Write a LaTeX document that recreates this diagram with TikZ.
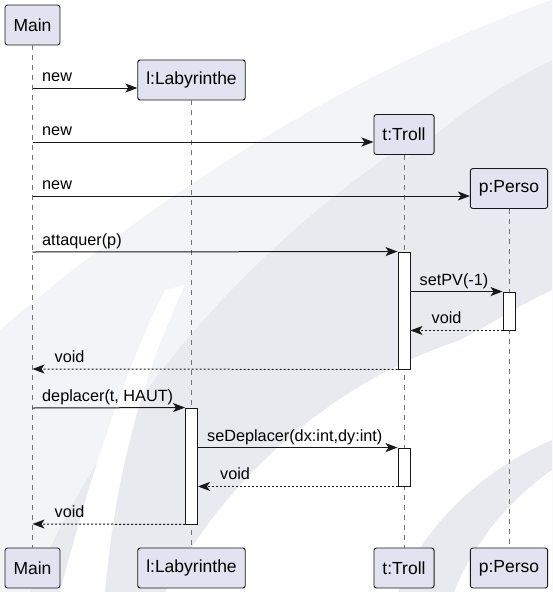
\documentclass[tikz,border=0pt]{standalone}
\usepackage{fontspec}
\setmainfont{Liberation Sans}
\usetikzlibrary{arrows.meta,calc}
\definecolor{boxfill}{HTML}{E2E2F0}
\definecolor{ink}{HTML}{181818}
\definecolor{bgmid}{HTML}{E9EAEF}
\definecolor{bglight}{HTML}{F3F4F7}
\tikzset{
  part/.style={draw=ink, fill=boxfill, rounded corners=2.5pt, line width=0.9pt,
    minimum height=40pt, inner xsep=8.5pt, inner ysep=0pt,
    font=\fontsize{17.5}{20}\selectfont},
  life/.style={draw=ink!60, line width=0.8pt, dash pattern=on 5pt off 5pt},
  act/.style={draw=ink, fill=white, line width=0.9pt, minimum width=12pt, inner sep=0pt},
  msg/.style={draw=ink, line width=1pt, -{Stealth[length=12pt,width=9pt,inset=3pt]}},
  ret/.style={draw=ink, line width=1pt, dash pattern=on 2pt off 2pt,
    -{Stealth[length=12pt,width=9pt,inset=3pt]}},
  lbl/.style={inner sep=0pt, anchor=base west, font=\fontsize{16.25}{19}\selectfont}
}
\begin{document}
\begin{tikzpicture}[x=1pt,y=-1pt]
\useasboundingbox (0,0) rectangle (552,592);
% background
\fill[white] (0,0) rectangle (552,592);
\fill[bglight] (0,330) .. controls (150,200) and (350,70) .. (552,0) -- (552,592) -- (0,592) -- cycle;
\fill[bgmid] (30,592) .. controls (120,380) and (300,180) .. (552,60) -- (552,592) -- cycle;
% white swooshes
\fill[white] (60,592) .. controls (90,480) and (120,380) .. (165,290)
   -- (185,285) .. controls (140,380) and (115,480) .. (105,592) -- cycle;
\fill[white] (165,592) .. controls (230,470) and (340,380) .. (458,341)
   .. controls (490,325) and (520,305) .. (552,290) -- (552,440)
   .. controls (480,470) and (420,530) .. (398,592) -- cycle;
\fill[white] (454,592) .. controls (475,540) and (510,500) .. (552,470) -- (552,592) -- cycle;
\fill[bglight] (552,0) -- (552,60) .. controls (500,85) and (450,120) .. (405,160)
   .. controls (430,110) and (480,50) .. (552,0) -- cycle;

% participants
\node[part] (mainT) at (32.5,25) {Main};
\node[part] (labT) at (191.5,80) {l:Labyrinthe};
\node[part] (trollT) at (404,134.5) {t:Troll};
\node[part] (persoT) at (509,188.5) {p:Perso};
\node[part] (mainB) at (32.5,568) {Main};
\node[part] (labB) at (191.5,568) {l:Labyrinthe};
\node[part] (trollB) at (404,568) {t:Troll};
\node[part] (persoB) at (509,568) {p:Perso};

% lifelines
\draw[life] (mainT) -- (mainB);
\draw[life] (labT) -- (labB);
\draw[life] (trollT) -- (trollB);
\draw[life] (persoT) -- (persoB);

% activations
\node[act, minimum height=117pt] (tA1) at (404,310.5) {};
\node[act, minimum height=38pt] (pA1) at (509,311) {};
\node[act, minimum height=116pt] (lA1) at (191.5,466) {};
\node[act, minimum height=38pt] (tA2) at (404,467) {};

% points on Main lifeline
\coordinate (m1) at (32.5,88);
\coordinate (m2) at (32.5,142);
\coordinate (m3) at (32.5,196);
\coordinate (m4) at (32.5,252);
\coordinate (m5) at (32.5,369);
\coordinate (m6) at (32.5,408);
\coordinate (m7) at (32.5,524);

% messages
\draw[msg] (m1) -- (labT.west |- m1);
\node[lbl] at ($(m1)+(9.5,-6.5)$) {new};
\draw[msg] (m2) -- (trollT.west |- m2);
\node[lbl] at ($(m2)+(9.5,-6.5)$) {new};
\draw[msg] (m3) -- (persoT.west |- m3);
\node[lbl] at ($(m3)+(9.5,-6.5)$) {new};
\draw[msg] (m4) -- (tA1.north west);
\node[lbl] at ($(m4)+(9.5,-6.5)$) {attaquer(p)};
\draw[msg] (tA1.east |- pA1.north) -- (pA1.north west);
\node[lbl] at ($(tA1.east |- pA1.north)+(9,-6.5)$) {setPV(-1)};
\draw[ret] (pA1.south west) -- (tA1.east |- pA1.south);
\node[lbl] at ($(tA1.east |- pA1.south)+(21,-6.5)$) {void};
\draw[ret] (tA1.south west) -- (m5);
\node[lbl] at ($(m5)+(22,-6.5)$) {void};
\draw[msg] (m6) -- (lA1.north west);
\node[lbl] at ($(m6)+(9.5,-6.5)$) {deplacer(t, HAUT)};
\draw[msg] (lA1.east |- tA2.north) -- (tA2.north west);
\node[lbl] at ($(lA1.east |- tA2.north)+(9,-6.5)$) {seDeplacer(dx:int,dy:int)};
\draw[ret] (tA2.south west) -- (lA1.east |- tA2.south);
\node[lbl] at ($(lA1.east |- tA2.south)+(22,-6.5)$) {void};
\draw[ret] (lA1.south west) -- (m7);
\node[lbl] at ($(m7)+(22,-6.5)$) {void};
\end{tikzpicture}
\end{document}
